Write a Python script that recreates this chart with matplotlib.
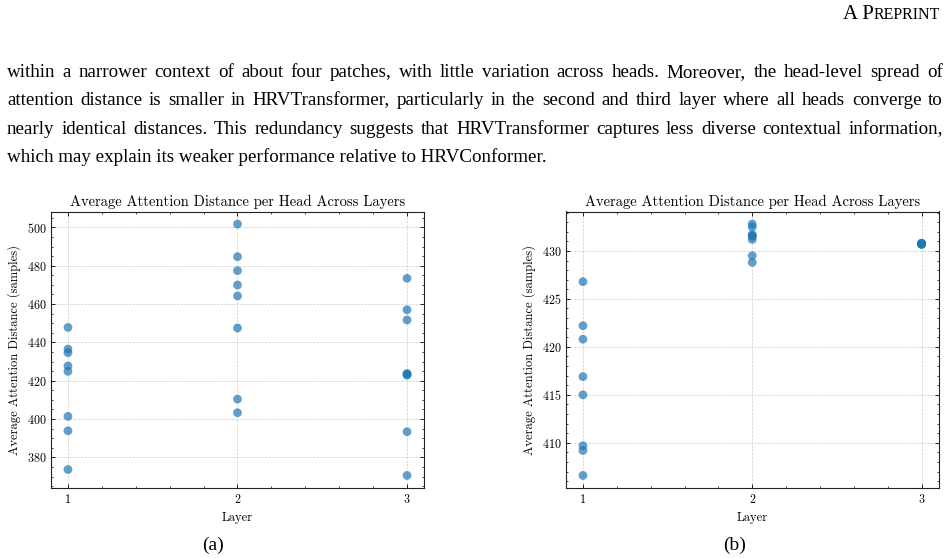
import numpy as np
import matplotlib
matplotlib.use("Agg")
import matplotlib.pyplot as plt

# -----------------------------------------------
# Data: average attention distance per head (8 heads per layer)
# -----------------------------------------------
LAYERS = [1, 2, 3]

# (a) HRVConformer
conf_layer1 = [447.8, 436.5, 434.6, 427.7, 424.9, 401.4, 393.9, 373.7]
conf_layer2 = [501.7, 484.7, 477.4, 469.9, 464.2, 447.5, 410.4, 403.3]
conf_layer3 = [473.4, 457.0, 451.7, 423.8, 423.3, 422.9, 393.4, 370.6]

# (b) HRVTransformer
trans_layer1 = [426.8, 422.2, 420.8, 416.9, 415.0, 409.7, 409.2, 406.6]
trans_layer2 = [432.8, 432.5, 431.7, 431.6, 431.5, 431.2, 429.5, 428.8]
trans_layer3 = [430.8, 430.8, 430.75, 430.75, 430.7, 430.7, 430.7, 430.7]

TITLE   = "Average Attention Distance per Head Across Layers"
XLABEL  = "Layer"
YLABEL  = "Average Attention Distance (samples)"
CAPTIONS = ["(a)", "(b)"]

BODY_LINES = [
    "within a narrower context of about four patches, with little variation across heads. Moreover, the head-level spread of",
    "attention distance is smaller in HRVTransformer, particularly in the second and third layer where all heads converge to",
    "nearly identical distances. This redundancy suggests that HRVTransformer captures less diverse contextual information,",
    "which may explain its weaker performance relative to HRVConformer.",
]

# -----------------------------------------------
# Style (science-like: ticks in, minor ticks, dashed grid)
# -----------------------------------------------
plt.rcParams.update({
    "font.family": "cmr10",
    "mathtext.fontset": "cm",
    "axes.formatter.use_mathtext": True,
    "xtick.direction": "in",
    "ytick.direction": "in",
    "xtick.top": True,
    "ytick.right": True,
    "xtick.minor.visible": True,
    "ytick.minor.visible": True,
    "xtick.major.size": 3,
    "ytick.major.size": 3,
    "xtick.minor.size": 1.5,
    "ytick.minor.size": 1.5,
    "xtick.major.width": 0.6,
    "ytick.major.width": 0.6,
    "xtick.minor.width": 0.5,
    "ytick.minor.width": 0.5,
    "axes.linewidth": 0.8,
    "axes.edgecolor": "#222222",
})

BODY_FONT = "Liberation Serif"
W, H = 951, 558
fig = plt.figure(figsize=(W / 100, H / 100), dpi=100)


def px(x, y):
    return x / W, 1 - y / H


# -----------------------------------------------
# Two scatter panels
# -----------------------------------------------
panels = [
    ([conf_layer1, conf_layer2, conf_layer3], 51, 424),
    ([trans_layer1, trans_layer2, trans_layer3], 566, 938.5),
]
top_px, bot_px = 211.5, 488

for (series, left, right) in panels:
    ax = fig.add_axes([left / W, 1 - bot_px / H, (right - left) / W, (bot_px - top_px) / H])
    for layer, vals in zip(LAYERS, series):
        ax.scatter([layer] * len(vals), vals, s=40, color="#1f77b4", alpha=0.7,
                   edgecolors="none", zorder=3)
    ax.set_xticks(LAYERS)
    ax.grid(True, which="major", linestyle="--", linewidth=0.5, color="#cccccc")
    ax.set_title(TITLE, fontsize=10.5, pad=4)
    ax.set_xlabel(XLABEL, fontsize=9)
    ax.set_ylabel(YLABEL, fontsize=9)
    ax.tick_params(labelsize=8.7)

# -----------------------------------------------
# Page text: header, paragraph, captions
# -----------------------------------------------
hdr_r = fig.text(*px(940, 19), "REPRINT", fontsize=11.5, family=BODY_FONT, ha="right", va="baseline")
renderer = fig.canvas.get_renderer()
rw = hdr_r.get_window_extent(renderer).width
fig.text(*px(940 - rw, 19), "A P", fontsize=15, family=BODY_FONT, ha="right", va="baseline")

x0, x1 = 7, 943
body_size = 13.7
baselines = [77, 105.3, 133.6, 162]
for i, (line, yb) in enumerate(zip(BODY_LINES, baselines)):
    if i == len(BODY_LINES) - 1:
        fig.text(*px(x0, yb), line, fontsize=body_size, family=BODY_FONT, va="baseline")
        continue
    words = line.split()
    arts = [fig.text(0, 0, w, fontsize=body_size, family=BODY_FONT, va="baseline") for w in words]
    widths = [a.get_window_extent(renderer).width for a in arts]
    gap = (x1 - x0 - sum(widths)) / (len(words) - 1)
    x = x0
    for a, w in zip(arts, widths):
        a.set_position(px(x, yb))
        x += w + gap

fig.text(*px(213, 545), CAPTIONS[0], fontsize=14, family=BODY_FONT, ha="center", va="center")
fig.text(*px(735, 545), CAPTIONS[1], fontsize=14, family=BODY_FONT, ha="center", va="center")

fig.savefig("out.png", dpi=100)
